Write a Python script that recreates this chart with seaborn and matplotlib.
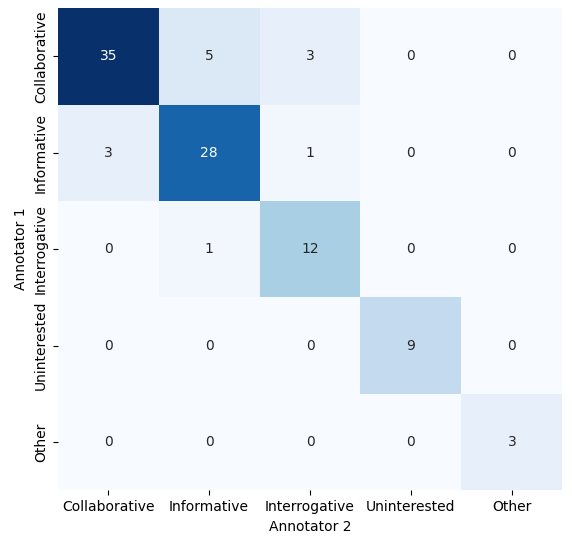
import matplotlib
matplotlib.use("Agg")
import matplotlib.pyplot as plt
import seaborn as sns
import numpy as np

# Labels and agreement counts
labels = ["Collaborative", "Informative", "Interrogative", "Uninterested", "Other"]
row_collab = [35, 5, 3, 0, 0]
row_inform = [3, 28, 1, 0, 0]
row_interr = [0, 1, 12, 0, 0]
row_uninter = [0, 0, 0, 9, 0]
row_other = [0, 0, 0, 0, 3]

cm = np.array([row_collab, row_inform, row_interr, row_uninter, row_other])

fig = plt.figure(figsize=(5.72, 5.37), dpi=100)
ax = fig.add_axes([0.101, 0.087, 0.882, 0.898])

sns.heatmap(
    cm,
    annot=True,
    fmt='d',
    cmap='Blues',
    cbar=False,
    xticklabels=labels,
    yticklabels=labels,
    ax=ax
)

ax.set_xlabel("Annotator 2")
ax.set_ylabel("Annotator 1")
plt.setp(ax.get_yticklabels(), rotation=90, va='center')
plt.setp(ax.get_xticklabels(), rotation=0)

fig.savefig("out.png", dpi=100)
